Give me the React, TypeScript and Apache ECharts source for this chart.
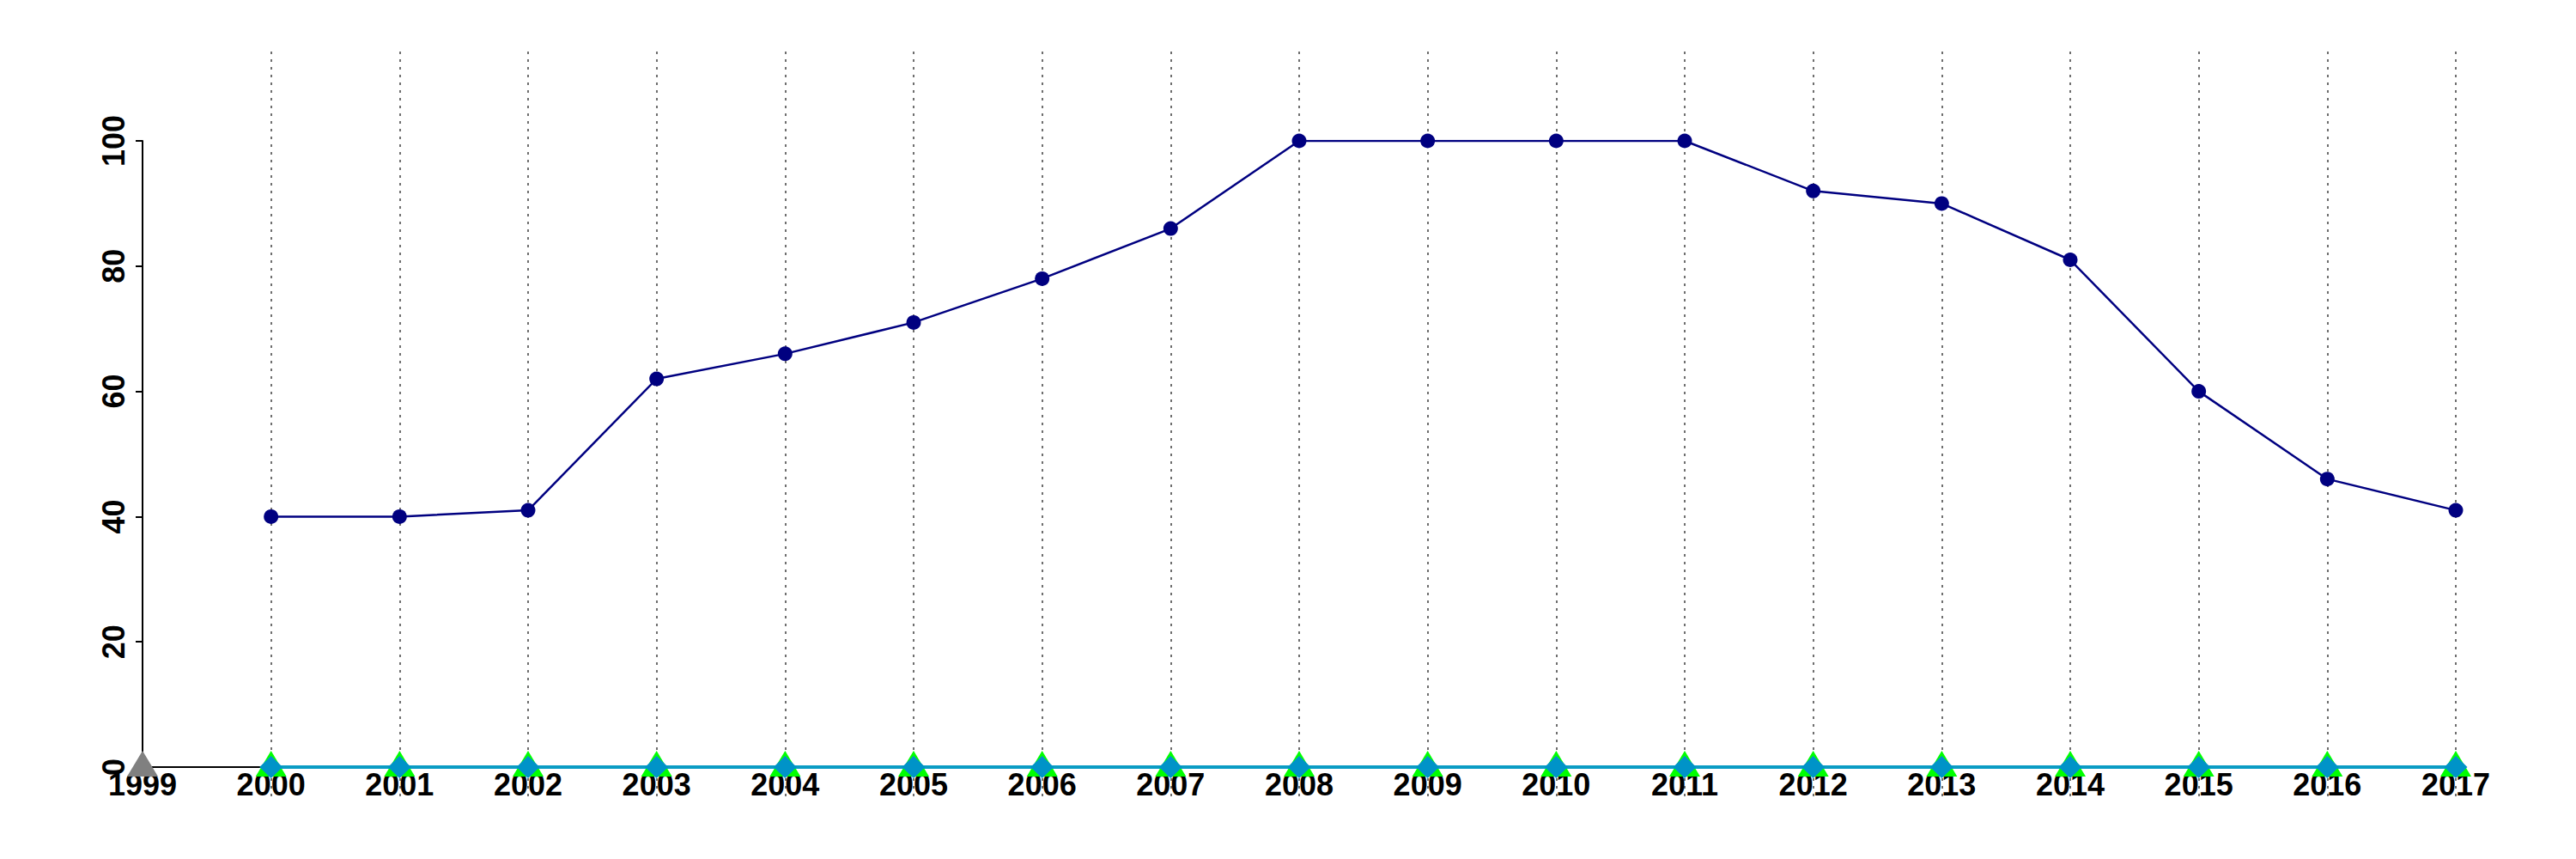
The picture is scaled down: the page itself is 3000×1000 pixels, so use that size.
import React, { useEffect, useRef } from "react";
import * as echarts from "echarts";

const years = [2000, 2001, 2002, 2003, 2004, 2005, 2006, 2007, 2008, 2009, 2010, 2011, 2012, 2013, 2014, 2015, 2016, 2017];
const navyValues = [40, 40, 41, 62, 66, 71, 78, 86, 100, 100, 100, 100, 92, 90, 81, 60, 46, 41];
const greenValues = [0, 0, 0, 0, 0, 0, 0, 0, 0, 0, 0, 0, 0, 0, 0, 0, 0, 0];
const blueValues = [0, 0, 0, 0, 0, 0, 0, 0, 0, 0, 0, 0, 0, 0, 0, 0, 0, 0];
const grayYears = [1999];
const grayValues = [0];
const xMin = 1999;
const xMax = 2017;
const yMin = 0;
const yMax = 100;
const yStep = 20;

const W = 3000;
const H = 1000;
const LEFT = 166;
const RIGHT = 140;
const TOP = 164;
const BOTTOM = 107;
const FONT = "'Liberation Sans', Arial, sans-serif";

export default function App() {
  const ref = useRef<HTMLDivElement>(null);
  useEffect(() => {
    document.body.style.margin = "0";
    const chart = echarts.init(ref.current!, null, { renderer: "svg" });
    const pxPerYear = (W - LEFT - RIGHT) / (xMax - xMin);
    const pair = (xs: number[], ys: number[]) => xs.map((x, i) => [x, ys[i]]);
    const labelStyle = { fontFamily: FONT, fontWeight: "bold" as const, fontSize: 36, color: "#000" };
    chart.setOption({
      animation: false,
      backgroundColor: "#fff",
      grid: [
        { left: LEFT, right: RIGHT, top: TOP, bottom: BOTTOM },
        { left: LEFT + pxPerYear, right: RIGHT, top: 60, bottom: 72 },
      ],
      xAxis: [
        {
          type: "value", gridIndex: 0, min: xMin, max: xMax, interval: 1,
          axisLine: { show: true, lineStyle: { color: "#000", width: 2 } },
          axisTick: { show: false },
          splitLine: { show: false },
          axisLabel: { ...labelStyle, margin: 2, formatter: (v: number) => String(v), showMinLabel: true, showMaxLabel: true },
        },
        {
          type: "value", gridIndex: 1, min: years[0], max: xMax, interval: 1,
          axisLine: { show: false }, axisTick: { show: false }, axisLabel: { show: false },
          splitLine: { show: true, lineStyle: { color: "#6e6e6e", width: 2, type: [3, 6] } },
        },
      ],
      yAxis: [
        {
          type: "value", gridIndex: 0, min: yMin, max: yMax, interval: yStep,
          axisLine: { show: true, lineStyle: { color: "#000", width: 2 } },
          axisTick: { show: true, length: 8, lineStyle: { color: "#000", width: 2 } },
          splitLine: { show: false },
          axisLabel: { ...labelStyle, rotate: 90, margin: 16 },
        },
        {
          type: "value", gridIndex: 1, min: 0, max: 1,
          axisLine: { show: false }, axisTick: { show: false }, axisLabel: { show: false }, splitLine: { show: false },
        },
      ],
      series: [
        {
          type: "line", xAxisIndex: 0, yAxisIndex: 0, data: pair(years, greenValues),
          symbol: "triangle", symbolSize: [36, 30], symbolOffset: [0, -4],
          itemStyle: { color: "#00ff00" }, lineStyle: { color: "#00ff00", width: 3 }, z: 3,
        },
        {
          type: "line", xAxisIndex: 0, yAxisIndex: 0, data: pair(years, blueValues),
          symbol: "diamond", symbolSize: [27, 26],
          itemStyle: { color: "#0093c8" }, lineStyle: { color: "#0a9cc4", width: 4 }, z: 4,
        },
        {
          type: "line", xAxisIndex: 0, yAxisIndex: 0, data: pair(grayYears, grayValues),
          symbol: "triangle", symbolSize: [36, 30], symbolOffset: [0, -4],
          itemStyle: { color: "#808080" }, z: 4,
        },
        {
          type: "line", xAxisIndex: 0, yAxisIndex: 0, data: pair(years, navyValues),
          symbol: "circle", symbolSize: 17,
          itemStyle: { color: "#000080" }, lineStyle: { color: "#000080", width: 2.5 }, z: 5,
        },
      ],
    });
    return () => chart.dispose();
  }, []);
  return <div ref={ref} style={{ width: W, height: H }} />;
}
